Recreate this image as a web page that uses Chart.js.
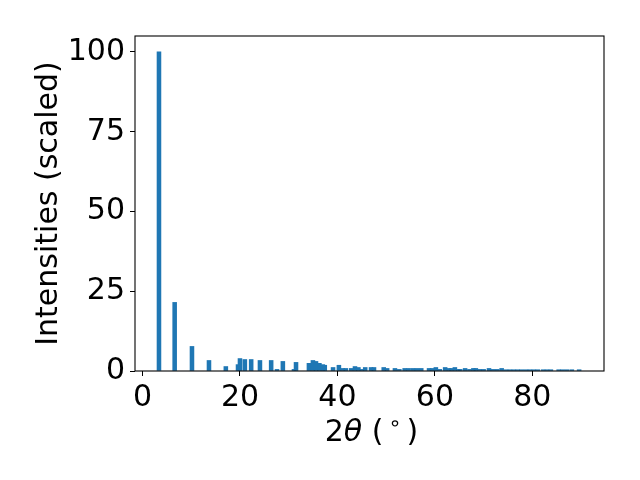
<!DOCTYPE html>
<html><head><meta charset="utf-8">
<script src="https://cdn.jsdelivr.net/npm/chart.js@4"></script>
<style>html,body{margin:0;padding:0;background:#fff}</style>
</head><body>
<canvas id="c" width="640" height="480"></canvas>
<script>
const twoTheta = [3.38, 6.6, 10.15, 13.64, 17.1, 19.6, 20.0, 21.0, 22.3, 24.1, 26.4, 27.6, 28.8, 31.08, 31.5,
  34.15, 34.97, 35.6, 36.3, 37.0, 37.4, 39.1, 40.3, 41.1, 41.7, 42.8, 43.6, 44.3, 45.0, 45.7, 46.9, 47.5,
  49.5, 50.2, 51.8, 52.7, 53.8, 54.6, 55.5, 56.3, 57.2, 58.8, 59.4, 60.2, 61.0, 62.1, 62.9, 63.4, 64.1,
  64.8, 65.2, 66.2, 67.1, 67.9, 68.4, 69.2, 70.0, 71.1, 71.9, 72.8, 73.7, 74.6, 75.4, 76.2, 77.0, 77.8,
  78.7, 79.5, 80.3, 81.1, 82.2, 83.0, 83.8, 85.4, 86.2, 87.1, 88.1, 89.6];
const intensity = [100, 21.5, 7.7, 3.3, 1.4, 2.0, 3.9, 3.6, 3.6, 3.3, 3.3, 0.5, 3.0, 0.5, 2.7,
  2.4, 3.3, 3.0, 2.4, 2.0, 1.8, 1.1, 1.8, 0.8, 0.8, 0.8, 1.4, 1.1, 0.5, 1.1, 1.1, 1.1,
  1.1, 0.8, 0.8, 0.5, 0.8, 0.8, 0.8, 0.8, 0.8, 0.8, 0.8, 1.1, 0.5, 1.1, 0.8, 0.8, 1.1,
  0.5, 0.5, 0.8, 0.5, 0.8, 0.8, 0.5, 0.5, 0.8, 0.5, 0.5, 0.8, 0.4, 0.4, 0.4, 0.4, 0.4,
  0.4, 0.4, 0.4, 0.4, 0.4, 0.4, 0.4, 0.4, 0.4, 0.4, 0.4, 0.4];
const xTicks = [0, 20, 40, 60, 80];
const yTicks = [0, 25, 50, 75, 100];
const xLabelParts = ["2", "θ", " (", "∘", ")"];
const yLabel = "Intensities (scaled)";

const FONT = "'DejaVu Sans', sans-serif";
const FS = 30;

const framePlugin = {
  id: 'frame',
  afterDraw(chart) {
    const a = chart.chartArea, ctx = chart.ctx;
    ctx.save();
    ctx.strokeStyle = '#000';
    ctx.lineWidth = 1.1;
    ctx.strokeRect(a.left, a.top, a.right - a.left, a.bottom - a.top);
    ctx.restore();
  }
};

const xTitlePlugin = {
  id: 'xtitle',
  afterDraw(chart) {
    const a = chart.chartArea, ctx = chart.ctx;
    const styles = [
      { font: `${FS}px ${FONT}`, dy: 0, gap: 0 },
      { font: `italic ${FS}px ${FONT}`, dy: 0, gap: 0 },
      { font: `${FS}px ${FONT}`, dy: 0, gap: 0 },
      { font: `${Math.round(FS * 0.7)}px ${FONT}`, dy: -11, gap: 5 },
      { font: `${FS}px ${FONT}`, dy: 0, gap: 5 }
    ];
    ctx.save();
    ctx.fillStyle = '#000';
    ctx.textBaseline = 'alphabetic';
    ctx.textAlign = 'left';
    let total = 0;
    const widths = xLabelParts.map((t, i) => {
      ctx.font = styles[i].font;
      const w = ctx.measureText(t).width + styles[i].gap;
      total += w;
      return w;
    });
    let x = (a.left + a.right) / 2 - total / 2 + 2;
    const base = 441;
    xLabelParts.forEach((t, i) => {
      ctx.font = styles[i].font;
      ctx.fillText(t, x + styles[i].gap, base + styles[i].dy);
      x += widths[i];
    });
    ctx.restore();
  }
};

new Chart(document.getElementById('c'), {
  type: 'bar',
  data: {
    datasets: [{
      data: twoTheta.map((x, i) => ({ x: x, y: intensity[i] })),
      backgroundColor: '#1f77b4',
      borderWidth: 0,
      barThickness: 3.9
    }]
  },
  options: {
    responsive: false,
    animation: false,
    devicePixelRatio: 1,
    layout: { padding: { left: 31, right: 36, top: 36, bottom: 33 } },
    plugins: { legend: { display: false }, tooltip: { enabled: false } },
    scales: {
      x: {
        type: 'linear',
        min: -1.54, max: 94.7,
        offset: false,
        grid: { display: true, drawOnChartArea: false, drawTicks: true, tickLength: 5, color: '#000', offset: false },
        border: { display: false },
        ticks: { color: '#000', padding: 4, font: { family: FONT, size: FS }, maxRotation: 0 },
        afterBuildTicks(s) { s.ticks = xTicks.map(v => ({ value: v })); },
        afterFit(s) { s.height = 76; },
        title: { display: false }
      },
      y: {
        min: 0, max: 105,
        grid: { display: true, drawOnChartArea: false, drawTicks: true, tickLength: 5, color: '#000' },
        border: { display: false },
        ticks: { color: '#000', padding: 5, font: { family: FONT, size: FS } },
        afterBuildTicks(s) { s.ticks = yTicks.map(v => ({ value: v })); },
        afterFit(s) { s.width = 104; },
        title: { display: true, text: yLabel, color: '#000', font: { family: FONT, size: FS }, padding: 0 }
      }
    }
  },
  plugins: [framePlugin, xTitlePlugin]
});
</script>
</body></html>
